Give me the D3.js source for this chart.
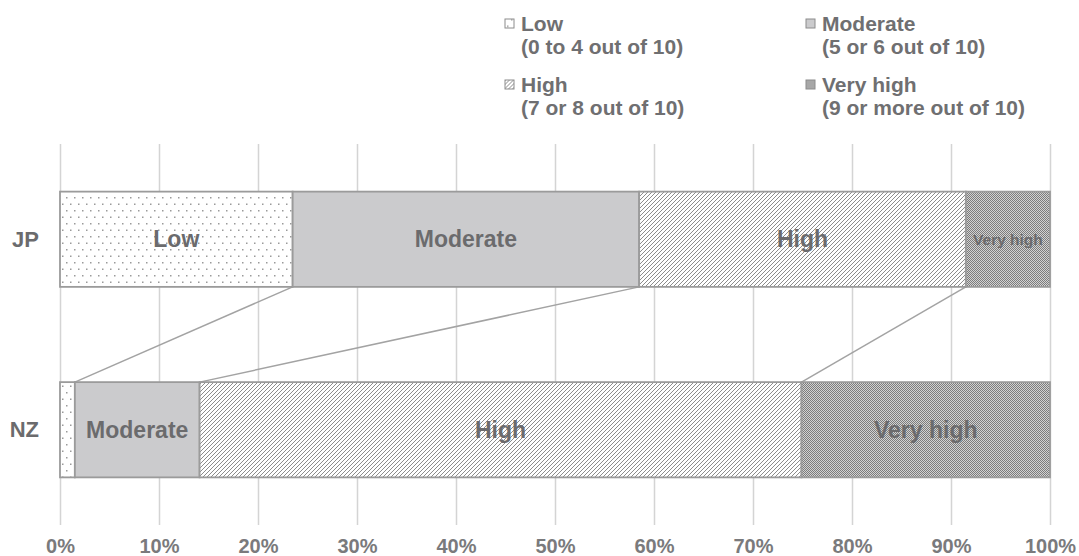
<!DOCTYPE html>
<html>
<head>
<meta charset="utf-8">
<script src="https://cdn.jsdelivr.net/npm/d3@7"></script>
<style>
  body { margin: 0; background: #fff; }
  svg text { font-family: "Liberation Sans", Arial, sans-serif; font-weight: bold; }
</style>
</head>
<body>
<svg id="chart" width="1079" height="556"></svg>
<script>
// data
const countries = ["JP", "NZ"];
const levels = ["Low", "Moderate", "High", "Very high"];
const levelNotes = ["(0 to 4 out of 10)", "(5 or 6 out of 10)", "(7 or 8 out of 10)", "(9 or more out of 10)"];
const shareJP = [23.5, 35.0, 33.0, 8.5];
const shareNZ = [1.5, 12.6, 60.8, 25.1];
const xTicks = [0, 10, 20, 30, 40, 50, 60, 70, 80, 90, 100];

const svg = d3.select("#chart");
const M = { top: 144, right: 29, bottom: 31, left: 60 };
const W = 1079, H = 556;

const x = d3.scaleLinear().domain([0, 100]).range([M.left, W - M.right]);
const y = d3.scaleBand().domain(countries).range([M.top, H - M.bottom])
  .paddingInner(0.5).paddingOuter(0.25);

// patterns
const defs = svg.append("defs");
const dots = defs.append("pattern").attr("id", "p-low").attr("patternUnits", "userSpaceOnUse")
  .attr("width", 8).attr("height", 13);
dots.append("rect").attr("width", 8).attr("height", 13).attr("fill", "#fff");
dots.append("rect").attr("x", 2).attr("y", 2).attr("width", 1.5).attr("height", 1.5).attr("fill", "#9a9a9a");
dots.append("rect").attr("x", 6).attr("y", 8.5).attr("width", 1.5).attr("height", 1.5).attr("fill", "#9a9a9a");

const hatch = defs.append("pattern").attr("id", "p-high").attr("patternUnits", "userSpaceOnUse")
  .attr("width", 4).attr("height", 4);
hatch.append("rect").attr("width", 4).attr("height", 4).attr("fill", "#fff");
hatch.append("path").attr("d", "M-1,1 L1,-1 M0,4 L4,0 M3,5 L5,3")
  .attr("stroke", "#8c8c8c").attr("stroke-width", 1);

const check = defs.append("pattern").attr("id", "p-vhigh").attr("patternUnits", "userSpaceOnUse")
  .attr("width", 2).attr("height", 2);
check.append("rect").attr("width", 2).attr("height", 2).attr("fill", "#d2d2d2");
check.append("rect").attr("width", 1).attr("height", 1).attr("fill", "#7c7c7c");
check.append("rect").attr("x", 1).attr("y", 1).attr("width", 1).attr("height", 1).attr("fill", "#7c7c7c");

const fills = d3.scaleOrdinal().domain(levels)
  .range(["url(#p-low)", "#cbcbcd", "url(#p-high)", "url(#p-vhigh)"]);

// gridlines + axis labels
const xAxis = svg.append("g")
  .attr("transform", `translate(0,${H - M.bottom})`)
  .call(d3.axisBottom(x).tickValues(xTicks).tickSize(-(H - M.top - M.bottom)).tickFormat(d => d + "%").tickPadding(14));
xAxis.select(".domain").remove();
xAxis.selectAll(".tick line").attr("stroke", "#d4d4d4").attr("stroke-width", 1.5);
xAxis.selectAll(".tick text").attr("fill", "#7a7a7c").style("font-size", "20px")
  .style("font-family", "Liberation Sans, Arial, sans-serif").style("font-weight", "bold");

// stacked rows
const stackRows = countries.map((c, i) => {
  const vals = i === 0 ? shareJP : shareNZ;
  let acc = 0;
  return levels.map((lv, j) => {
    const seg = { country: c, level: lv, x0: acc, x1: acc + vals[j] };
    acc += vals[j];
    return seg;
  });
});

// connector lines between the two bars
const jp = stackRows[0], nz = stackRows[1];
for (let j = 0; j < levels.length - 1; j++) {
  svg.append("line")
    .attr("x1", x(jp[j].x1)).attr("y1", y("JP") + y.bandwidth())
    .attr("x2", x(nz[j].x1)).attr("y2", y("NZ"))
    .attr("stroke", "#a3a3a3").attr("stroke-width", 1.5);
}

const labelSize = { JP: [23, 23, 23, 15.5], NZ: [23, 23, 23, 23] };

stackRows.forEach(row => {
  const g = svg.append("g");
  g.selectAll("rect").data(row).join("rect")
    .attr("x", d => x(d.x0)).attr("y", y(row[0].country))
    .attr("width", d => x(d.x1) - x(d.x0)).attr("height", y.bandwidth())
    .attr("fill", d => fills(d.level))
    .attr("stroke", "#9b9b9b").attr("stroke-width", 1.8);
  g.selectAll("text").data(row.filter(d => d.x1 - d.x0 > 5)).join("text")
    .attr("x", d => x((d.x0 + d.x1) / 2))
    .attr("y", y(row[0].country) + y.bandwidth() / 2)
    .attr("text-anchor", "middle").attr("dominant-baseline", "central")
    .attr("fill", "#6b6b6d")
    .style("font-size", d => labelSize[d.country][levels.indexOf(d.level)] + "px")
    .text(d => d.level);
});

// category labels
svg.selectAll(".cat").data(countries).join("text")
  .attr("class", "cat")
  .attr("x", 39).attr("y", d => y(d) + y.bandwidth() / 2)
  .attr("text-anchor", "end").attr("dominant-baseline", "central")
  .attr("fill", "#6b6b6d").style("font-size", "22px")
  .text(d => d);

// legend
const legX = [505, 806], legY = [23.5, 84.5];
levels.forEach((lv, i) => {
  const lx = legX[i % 2], ly = legY[Math.floor(i / 2)];
  const g = svg.append("g").attr("transform", `translate(${lx},${ly})`);
  g.append("rect").attr("x", 0).attr("y", -4.5).attr("width", 9).attr("height", 9)
    .attr("fill", fills(lv)).attr("stroke", "#8c8c8c").attr("stroke-width", 1);
  g.append("text").attr("x", 16).attr("y", 0).attr("dominant-baseline", "central")
    .attr("fill", "#6f6f71").style("font-size", "21px").text(lv);
  g.append("text").attr("x", 16).attr("y", 23).attr("dominant-baseline", "central")
    .attr("fill", "#6f6f71").style("font-size", "21px").text(levelNotes[i]);
});
</script>
</body>
</html>
